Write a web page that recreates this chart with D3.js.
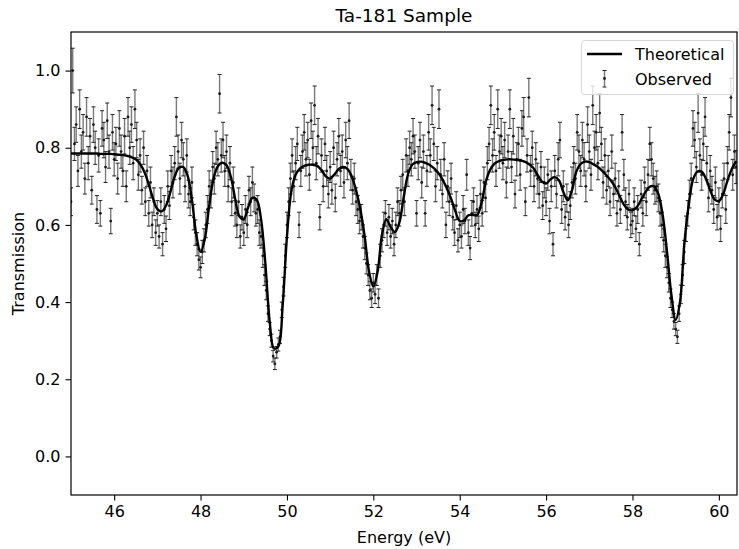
<!DOCTYPE html>
<html>
<head>
<meta charset="utf-8">
<script src="https://cdn.jsdelivr.net/npm/d3@7"></script>
<style>
  body { margin: 0; background: #fff; }
  text { font-family: "DejaVu Sans", sans-serif; fill: #000; }
</style>
</head>
<body>
<svg id="chart"></svg>
<script>
// set up constants
const width = 739;
const height = 549;
const margin = { top: 32, right: 2, bottom: 54, left: 71 };

// chart data
const titleText = 'Ta-181 Sample';
const xLabel = 'Energy (eV)';
const yLabel = 'Transmission';
const legendLabels = ['Theoretical', 'Observed'];
const xTicks = [46, 48, 50, 52, 54, 56, 58, 60];
const yTicks = [0.0, 0.2, 0.4, 0.6, 0.8, 1.0];

// theoretical curve, sampled every 0.1 eV from 45.0
const theoryStart = 45.0;
const theoryStep = 0.1;
const theoryValues = [
  .785, .785, .785, .785, .785, .785, .785, .784, .784, .784,
  .783, .782, .781, .779, .776, .770, .758, .737, .705, .668,
  .641, .635, .650, .685, .725, .748, .750, .728, .665, .575,
  .530, .565, .650, .720, .752, .761, .755, .725, .668, .622,
  .615, .645, .670, .665, .615, .500, .350, .280, .285, .390,
  .570, .686, .730, .746, .753, .756, .756, .753, .742, .726,
  .720, .731, .745, .750, .745, .725, .690, .640, .570, .480,
  .440, .480, .575, .615, .595, .582, .605, .670, .730, .756,
  .763, .764, .761, .756, .747, .735, .718, .695, .668, .635,
  .610, .612, .625, .626, .625, .655, .710, .742, .758, .765,
  .768, .770, .770, .769, .767, .764, .758, .748, .730, .713,
  .707, .718, .724, .715, .685, .664, .690, .738, .758, .764,
  .763, .757, .750, .740, .728, .715, .698, .675, .653, .640,
  .638, .646, .665, .685, .699, .700, .680, .625, .530, .420,
  .354, .400, .550, .650, .717, .738, .738, .720, .690, .666,
  .662, .680, .715, .745, .765
];

// observed points, every 0.04 eV from 45.00
const obsStart = 45.0;
const obsStep = 0.04;
const obsValues = [
  .66, 1.00, .81, .86, .74, .90, .79, .84, .72, .88, .76, .83, .69, .86, .80, .64, .78, .63, .85, .82, .75, .87, .79, .61, .84,
  .77, .81, .72, .85, .79, .74, .83, .70, .88, .80, .86, .76, .90, .82, .73, .78, .69, .80, .66, .74, .63, .71, .60, .66, .58,
  .63, .57, .66, .55, .64, .59, .70, .65, .74, .71, .76, .88, .79, .72, .82, .77, .70, .78, .68, .66, .71, .62, .58, .55, .51,
  .49, .53, .56, .60, .64, .70, .68, .75, .72, .80, .77, .94, .78, .82, .74, .79, .70, .76, .66, .71, .63, .60, .66, .57, .62,
  .58, .64, .60, .69, .66, .71, .67, .63, .64, .58, .57, .52, .47, .43, .37, .33, .30, .26, .24, .27, .29, .31, .38, .44, .52,
  .60, .66, .72, .78, .70, .76, .81, .60, .74, .79, .84, .77, .82, .73, .87, .80, .91, .76, .83, .62, .78, .70, .81, .74, .68,
  .75, .69, .80, .67, .77, .83, .74, .79, .71, .82, .76, .87, .73, .69, .72, .66, .64, .61, .62, .57, .54, .50, .47, .43, .41,
  .45, .42, .47, .41, .52, .56, .60, .63, .58, .62, .57, .61, .55, .60, .66, .63, .69, .73, .66, .78, .74, .80, .77, .83, .79,
  .63, .76, .82, .71, .79, .63, .74, .84, .78, .91, .81, .70, .76, .90, .73, .68, .77, .60, .70, .66, .72, .62, .58, .65, .56,
  .60, .57, .64, .61, .73, .58, .54, .63, .66, .60, .64, .59, .68, .63, .71, .67, .76, .81, .91, .78, .84, .74, .90, .79, .83,
  .76, .82, .71, .79, .90, .75, .83, .68, .77, .81, .73, .85, .88, .66, .78, .93, .74, .80, .70, .77, .72, .68, .75, .65, .71,
  .66, .73, .61, .70, .55, .74, .68, .77, .82, .64, .70, .62, .67, .60, .65, .71, .76, .72, .84, .79, .74, .82, .77, .70, .86,
  .79, .73, .91, .80, .84, .76, .89, .81, .71, .78, .69, .74, .66, .79, .68, .72, .63, .70, .64, .84, .73, .66, .62, .68, .60,
  .61, .66, .59, .64, .55, .68, .63, .71, .66, .73, .81, .77, .72, .69, .70, .67, .63, .60, .56, .52, .49, .45, .41, .38, .35,
  .33, .31, .37, .42, .47, .53, .59, .63, .68, .72, .85, .82, .75, .89, .78, .73, .81, .88, .76, .67, .74, .69, .64, .71, .62,
  .66, .59, .68, .72, .64, .76, .84, .93, .73, .79, .75
];
const obsErrors = [
  .036, .058, .043, .046, .040, .050, .043, .046, .040, .050, .043, .046, .036, .046, .043, .036, .043, .033, .046, .046, .040, .046, .043, .033, .046,
  .043, .043, .040, .046, .043, .040, .046, .040, .050, .043, .046, .043, .050, .046, .040, .043, .036, .043, .036, .040, .033, .040, .033, .036, .033,
  .033, .030, .036, .030, .036, .033, .040, .036, .040, .040, .043, .050, .043, .040, .046, .043, .040, .043, .036, .036, .040, .033, .033, .030, .027,
  .027, .030, .030, .033, .036, .040, .036, .040, .040, .043, .043, .050, .043, .046, .040, .043, .040, .043, .036, .040, .033, .033, .036, .030, .033,
  .033, .036, .033, .036, .036, .040, .036, .033, .036, .033, .030, .030, .027, .024, .020, .017, .017, .015, .015, .015, .017, .017, .020, .024, .030,
  .033, .036, .040, .043, .040, .043, .043, .033, .040, .043, .046, .043, .046, .040, .046, .043, .050, .043, .046, .033, .043, .040, .043, .040, .036,
  .040, .036, .043, .036, .043, .046, .040, .043, .040, .046, .043, .046, .040, .036, .040, .036, .036, .033, .033, .030, .030, .027, .027, .024, .024,
  .024, .024, .027, .024, .030, .030, .033, .033, .033, .033, .030, .033, .030, .033, .036, .033, .036, .040, .036, .043, .040, .043, .043, .046, .043,
  .033, .043, .046, .040, .043, .033, .040, .046, .043, .050, .043, .040, .043, .050, .040, .036, .043, .033, .040, .036, .040, .033, .033, .036, .030,
  .033, .030, .036, .033, .040, .033, .030, .033, .036, .033, .036, .033, .036, .033, .040, .036, .043, .043, .050, .043, .046, .040, .050, .043, .046,
  .043, .046, .040, .043, .050, .040, .046, .036, .043, .043, .040, .046, .050, .036, .043, .050, .040, .043, .040, .043, .040, .036, .040, .036, .040,
  .036, .040, .033, .040, .030, .040, .036, .043, .046, .036, .040, .033, .036, .033, .036, .040, .043, .040, .046, .043, .040, .046, .043, .040, .046,
  .043, .040, .050, .043, .046, .043, .050, .043, .040, .043, .036, .040, .036, .043, .036, .040, .033, .040, .036, .046, .040, .036, .033, .036, .033,
  .033, .036, .033, .036, .030, .036, .033, .040, .036, .040, .043, .043, .040, .036, .040, .036, .033, .033, .030, .030, .027, .024, .024, .020, .020,
  .017, .017, .020, .024, .027, .030, .033, .033, .036, .040, .046, .046, .040, .050, .043, .040, .043, .050, .043, .036, .040, .036, .036, .040, .033,
  .036, .033, .036, .040, .036, .043, .046, .050, .040, .043, .043
];

// build tables
const theory = theoryValues.map((t, i) => ({ e: theoryStart + i * theoryStep, t }));
const observed = obsValues.map((t, i) => ({ e: obsStart + i * obsStep, t, err: obsErrors[i] }));

// create SVG element
const svg = d3.select('#chart')
  .attr('width', width)
  .attr('height', height);

// create scales
const xScale = d3.scaleLinear()
  .domain([45, 60.42])
  .range([margin.left, width - margin.right]);

const yScale = d3.scaleLinear()
  .domain([-0.1, 1.1])
  .range([height - margin.bottom, margin.top]);

const plotW = width - margin.left - margin.right;
const plotH = height - margin.top - margin.bottom;

svg.append('clipPath')
  .attr('id', 'plot-clip')
  .append('rect')
  .attr('x', margin.left)
  .attr('y', margin.top)
  .attr('width', plotW)
  .attr('height', plotH);

// error bars
const obsGroup = svg.append('g').attr('clip-path', 'url(#plot-clip)');
const capHalf = 2;

obsGroup.selectAll('line.bar')
  .data(observed)
  .enter()
  .append('line')
  .attr('class', 'bar')
  .attr('x1', d => xScale(d.e))
  .attr('x2', d => xScale(d.e))
  .attr('y1', d => yScale(d.t - d.err))
  .attr('y2', d => yScale(d.t + d.err))
  .attr('stroke', '#7a7a7a')
  .attr('stroke-width', 1.4);

['lo', 'hi'].forEach(side => {
  obsGroup.selectAll(`line.cap-${side}`)
    .data(observed)
    .enter()
    .append('line')
    .attr('class', `cap-${side}`)
    .attr('x1', d => xScale(d.e) - capHalf)
    .attr('x2', d => xScale(d.e) + capHalf)
    .attr('y1', d => yScale(side === 'lo' ? d.t - d.err : d.t + d.err))
    .attr('y2', d => yScale(side === 'lo' ? d.t - d.err : d.t + d.err))
    .attr('stroke', '#222')
    .attr('stroke-width', 1);
});

obsGroup.selectAll('circle')
  .data(observed)
  .enter()
  .append('circle')
  .attr('cx', d => xScale(d.e))
  .attr('cy', d => yScale(d.t))
  .attr('r', 1.4)
  .attr('fill', '#1a1a1a');

// theoretical line
const line = d3.line()
  .x(d => xScale(d.e))
  .y(d => yScale(d.t))
  .curve(d3.curveCatmullRom.alpha(0.5));

svg.append('path')
  .datum(theory)
  .attr('clip-path', 'url(#plot-clip)')
  .attr('d', line)
  .attr('fill', 'none')
  .attr('stroke', '#000')
  .attr('stroke-width', 2.4)
  .attr('stroke-linejoin', 'round');

// create axis
const xAxis = d3.axisBottom(xScale)
  .tickValues(xTicks)
  .tickFormat(d3.format('d'))
  .tickSize(5.5)
  .tickPadding(5);

const yAxis = d3.axisLeft(yScale)
  .tickValues(yTicks)
  .tickFormat(d3.format('.1f'))
  .tickSize(5.5)
  .tickPadding(5);

const gx = svg.append('g')
  .attr('transform', `translate(0, ${height - margin.bottom})`)
  .call(xAxis);

const gy = svg.append('g')
  .attr('transform', `translate(${margin.left}, 0)`)
  .call(yAxis);

[gx, gy].forEach(g => {
  g.select('.domain').remove();
  g.selectAll('.tick line').attr('stroke', '#000').attr('stroke-width', 1.1);
  g.selectAll('.tick text')
    .attr('font-size', 16)
    .attr('font-family', '"DejaVu Sans", sans-serif')
    .attr('fill', '#000');
});

// frame
svg.append('rect')
  .attr('x', margin.left)
  .attr('y', margin.top)
  .attr('width', plotW)
  .attr('height', plotH)
  .attr('fill', 'none')
  .attr('stroke', '#000')
  .attr('stroke-width', 1.2);

// labels
svg.append('text')
  .attr('x', margin.left + plotW / 2)
  .attr('y', 22)
  .attr('text-anchor', 'middle')
  .attr('font-size', 18.5)
  .text(titleText);

svg.append('text')
  .attr('x', margin.left + plotW / 2)
  .attr('y', 543)
  .attr('text-anchor', 'middle')
  .attr('font-size', 16)
  .text(xLabel);

svg.append('text')
  .attr('transform', `translate(24, ${margin.top + plotH / 2}) rotate(-90)`)
  .attr('text-anchor', 'middle')
  .attr('font-size', 16)
  .text(yLabel);

// legend
const legend = svg.append('g');

legend.append('rect')
  .attr('x', 581.5)
  .attr('y', 40.5)
  .attr('width', 152)
  .attr('height', 54)
  .attr('rx', 3)
  .attr('fill', '#fff')
  .attr('fill-opacity', 0.8)
  .attr('stroke', '#d6d6d6');

legend.append('line')
  .attr('x1', 587)
  .attr('x2', 622)
  .attr('y1', 54)
  .attr('y2', 54)
  .attr('stroke', '#000')
  .attr('stroke-width', 2.4);

legend.append('line')
  .attr('x1', 604.5)
  .attr('x2', 604.5)
  .attr('y1', 70.5)
  .attr('y2', 87)
  .attr('stroke', '#7a7a7a')
  .attr('stroke-width', 1.4);

[70.5, 87].forEach(cy => {
  legend.append('line')
    .attr('x1', 602.5)
    .attr('x2', 606.5)
    .attr('y1', cy)
    .attr('y2', cy)
    .attr('stroke', '#222');
});

legend.append('circle')
  .attr('cx', 604.5)
  .attr('cy', 78.5)
  .attr('r', 1.4)
  .attr('fill', '#1a1a1a');

legend.selectAll('text.leg')
  .data(legendLabels)
  .enter()
  .append('text')
  .attr('class', 'leg')
  .attr('x', 635)
  .attr('y', (d, i) => 60 + i * 24.5)
  .attr('font-size', 16)
  .text(d => d);
</script>
</body>
</html>
